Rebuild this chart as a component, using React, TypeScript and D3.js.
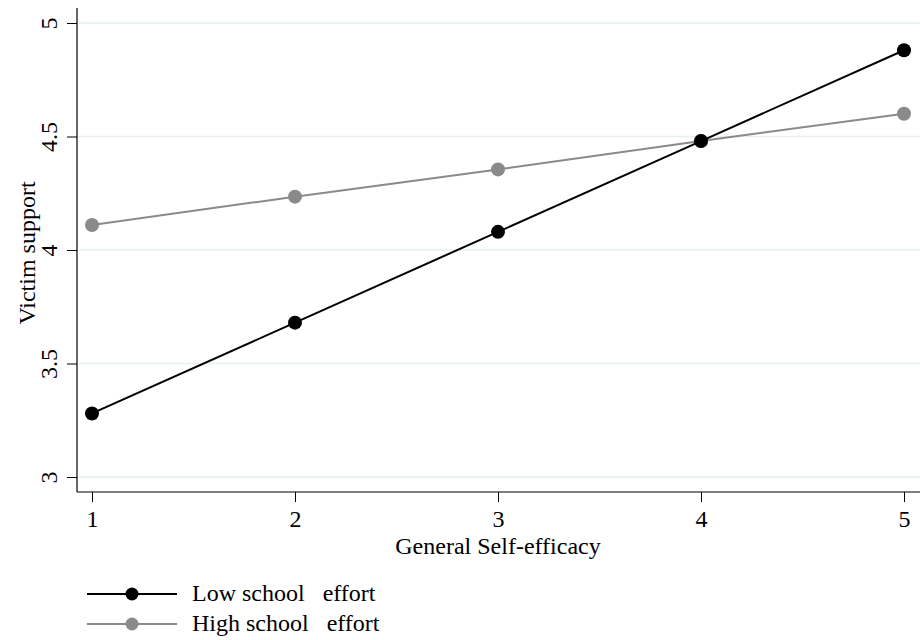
import React, { useEffect, useRef } from "react";
import * as d3 from "d3";

const efficacy = [1, 2, 3, 4, 5];
const lowEffort = [3.28, 3.68, 4.08, 4.48, 4.88];
const highEffort = [4.11, 4.235, 4.355, 4.48, 4.6];
const yTicks = [3, 3.5, 4, 4.5, 5];
const seriesNames = ["Low school   effort", "High school   effort"];
const seriesColors = ["#000000", "#8a8a8a"];

export default function App() {
  const ref = useRef<SVGSVGElement>(null);

  useEffect(() => {
    if (!ref.current) return;
    const svg = d3.select(ref.current);
    svg.selectAll("*").remove();

    const font = "'Liberation Serif', 'Times New Roman', serif";
    const fs = 24;
    const x = d3.scaleLinear().domain([1, 5]).range([92, 904]);
    const y = d3.scaleLinear().domain([3, 5]).range([477, 23]);
    const left = 77;
    const bottom = 492;

    // gridlines
    svg
      .selectAll("line.grid")
      .data(yTicks)
      .join("line")
      .attr("class", "grid")
      .attr("x1", left)
      .attr("x2", 920)
      .attr("y1", (d) => y(d))
      .attr("y2", (d) => y(d))
      .attr("stroke", "#e6eff1")
      .attr("stroke-width", 1.5);

    // y axis
    const yAxis = svg
      .append("g")
      .attr("transform", `translate(${left},0)`)
      .call(
        d3
          .axisLeft(y)
          .tickValues(yTicks)
          .tickSize(10)
          .tickPadding(0)
          .tickFormat((d) => String(d))
      );
    yAxis.select(".domain").attr("d", `M0,8V${bottom}`).attr("stroke", "#000").attr("stroke-width", 1.2);
    yAxis.selectAll(".tick line").attr("stroke", "#000");
    yAxis
      .selectAll(".tick text")
      .attr("transform", "rotate(-90)")
      .attr("x", 0)
      .attr("y", -20)
      .attr("dy", 0)
      .attr("text-anchor", "middle")
      .attr("font-family", font)
      .attr("font-size", fs)
      .attr("fill", "#000");

    // x axis
    const xAxis = svg
      .append("g")
      .attr("transform", `translate(0,${bottom})`)
      .call(
        d3
          .axisBottom(x)
          .tickValues(efficacy)
          .tickSize(10)
          .tickPadding(8)
          .tickFormat((d) => String(d))
      );
    xAxis.select(".domain").attr("d", `M${left},0H920`).attr("stroke", "#000").attr("stroke-width", 1.2);
    xAxis.selectAll(".tick line").attr("stroke", "#000");
    xAxis
      .selectAll(".tick text")
      .attr("font-family", font)
      .attr("font-size", fs)
      .attr("fill", "#000");

    // axis titles
    svg
      .append("text")
      .attr("x", 498)
      .attr("y", 554)
      .attr("text-anchor", "middle")
      .attr("font-family", font)
      .attr("font-size", fs)
      .text("General Self-efficacy");

    svg
      .append("text")
      .attr("transform", "translate(35,253) rotate(-90)")
      .attr("text-anchor", "middle")
      .attr("font-family", font)
      .attr("font-size", fs)
      .text("Victim support");

    // series
    const series = [lowEffort, highEffort];
    const line = d3
      .line<number>()
      .x((_, i) => x(efficacy[i]))
      .y((d) => y(d));

    // draw high first so low on top
    [1, 0].forEach((s) => {
      svg
        .append("path")
        .datum(series[s])
        .attr("d", line)
        .attr("fill", "none")
        .attr("stroke", seriesColors[s])
        .attr("stroke-width", 2);
      svg
        .selectAll(`circle.s${s}`)
        .data(series[s])
        .join("circle")
        .attr("class", `s${s}`)
        .attr("cx", (_, i) => x(efficacy[i]))
        .attr("cy", (d) => y(d))
        .attr("r", 7)
        .attr("fill", seriesColors[s]);
    });

    // legend
    const legend = svg
      .selectAll("g.legend")
      .data(seriesNames)
      .join("g")
      .attr("class", "legend")
      .attr("transform", (_, i) => `translate(0,${594 + i * 30})`);
    legend
      .append("line")
      .attr("x1", 87)
      .attr("x2", 177)
      .attr("stroke", (_, i) => seriesColors[i])
      .attr("stroke-width", 2);
    legend
      .append("circle")
      .attr("cx", 132)
      .attr("r", 6.5)
      .attr("fill", (_, i) => seriesColors[i]);
    legend
      .append("text")
      .attr("x", 192)
      .attr("y", 7)
      .attr("font-family", font)
      .attr("font-size", fs)
      .style("white-space", "pre")
      .text((d) => d);
  }, []);

  return (
    <svg
      ref={ref}
      width={920}
      height={640}
      style={{ position: "absolute", left: 0, top: 0, background: "#fff" }}
    />
  );
}
